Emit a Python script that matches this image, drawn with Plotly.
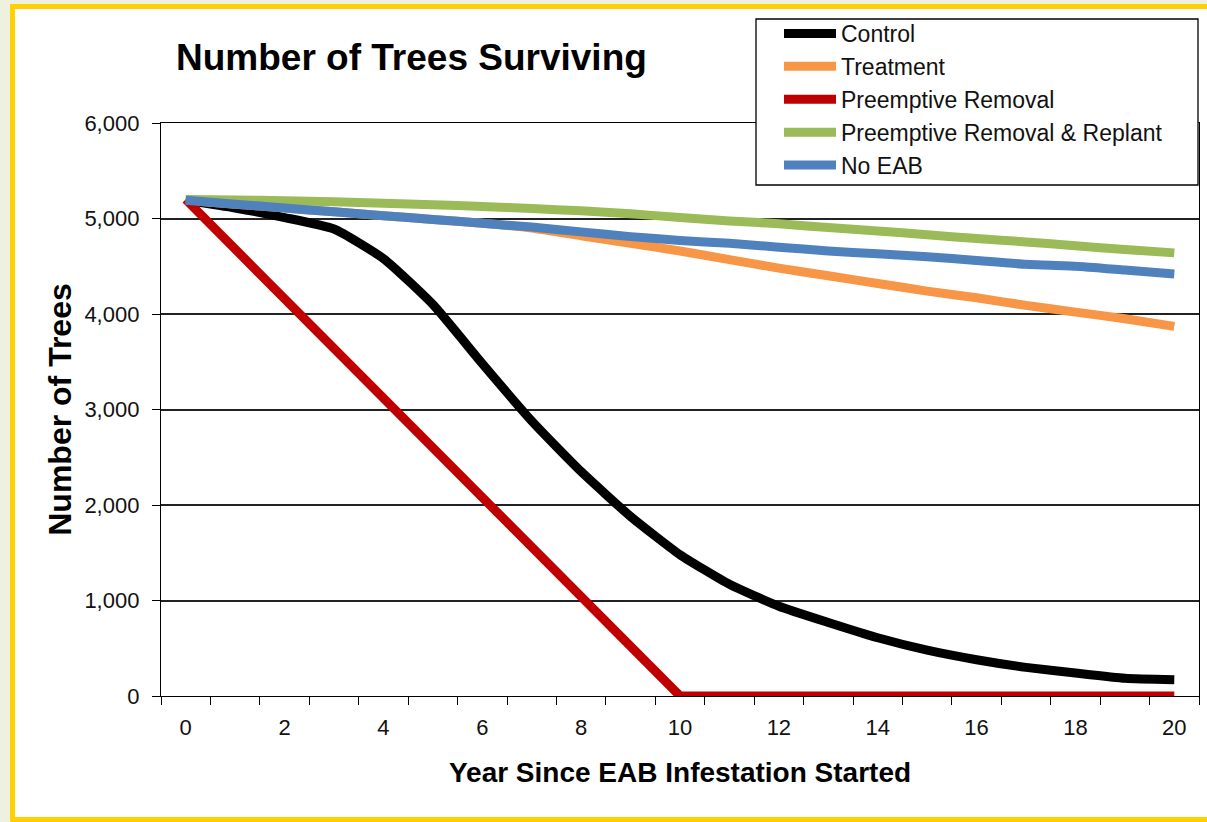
import plotly.graph_objects as go

# ---- data ----
years = list(range(21))
control = [5190, 5110, 5010, 4890, 4580, 4100, 3480, 2880, 2350, 1880, 1480,
           1170, 940, 770, 610, 480, 380, 300, 240, 185, 170]
treatment = [5190, 5150, 5110, 5070, 5030, 4990, 4950, 4900, 4820, 4740, 4660,
             4570, 4480, 4400, 4320, 4240, 4170, 4090, 4020, 3950, 3870]
preemptive_removal = [5200, 4680, 4160, 3640, 3120, 2600, 2080, 1560, 1040, 520, 0,
                      0, 0, 0, 0, 0, 0, 0, 0, 0, 0]
removal_replant = [5200, 5195, 5185, 5175, 5160, 5145, 5125, 5105, 5080, 5050, 5010,
                   4975, 4945, 4905, 4870, 4830, 4790, 4755, 4715, 4675, 4640]
no_eab = [5190, 5150, 5110, 5070, 5030, 4990, 4950, 4910, 4860, 4810, 4770,
          4740, 4700, 4660, 4630, 4600, 4560, 4520, 4500, 4460, 4420]

series_names = ["Control", "Treatment", "Preemptive Removal",
                "Preemptive Removal & Replant", "No EAB"]
series_values = [control, treatment, preemptive_removal, removal_replant, no_eab]
series_colors = ["#000000", "#f79646", "#c00000", "#9bbb59", "#4f81bd"]
series_shapes = ["spline", "spline", "linear", "spline", "spline"]

x_tick_values = [0, 2, 4, 6, 8, 10, 12, 14, 16, 18, 20]
x_tick_labels = ["0", "2", "4", "6", "8", "10", "12", "14", "16", "18", "20"]
y_tick_values = [0, 1000, 2000, 3000, 4000, 5000, 6000]

title_text = "Number of Trees Surviving"
x_title = "Year Since EAB Infestation Started"
y_title = "Number of Trees"

FONT = "Liberation Sans, Arial, sans-serif"
W, H = 1207, 822
ML, MR, MT, MB = 161, 8, 123, 126
PW = W - ML - MR
PH = H - MT - MB


def px_x(p):
    return (p - ML) / PW


def px_y(p):
    return (H - MB - p) / PH


fig = go.Figure()
for name, vals, col, shp in zip(series_names, series_values, series_colors, series_shapes):
    fig.add_trace(go.Scatter(
        x=years, y=vals, name=name, mode="lines",
        line=dict(color=col, width=9, shape=shp, smoothing=0.5),
    ))

# page frame: beige page, yellow border, white card
fig.add_shape(type="rect", xref="paper", yref="paper", layer="below",
              x0=px_x(12.5), x1=px_x(1215), y0=px_y(819.5), y1=px_y(6.5),
              fillcolor="white", line=dict(color="#ffd100", width=5))
# legend box (white, black border) drawn over the plot's top edge
fig.add_shape(type="rect", xref="paper", yref="paper", layer="above",
              x0=px_x(756), x1=px_x(1198), y0=px_y(185), y1=px_y(19),
              fillcolor="white", line=dict(color="#000000", width=1.3))

fig.update_layout(
    width=W, height=H, autosize=False,
    margin=dict(l=ML, r=MR, t=MT, b=MB, pad=0),
    paper_bgcolor="#eef0e0",
    plot_bgcolor="white",
    font=dict(family=FONT, color="#111111"),
    title=dict(text=title_text, x=px_x(176), xref="paper", xanchor="left",
               y=1 - 57 / H, yref="container", yanchor="middle",
               font=dict(family=FONT, size=37, color="#000000", weight="bold")),
    showlegend=True,
    legend=dict(x=px_x(779), y=px_y(12), xanchor="left", yanchor="top",
                bgcolor="rgba(0,0,0,0)", borderwidth=0,
                font=dict(family=FONT, size=23, color="#111111"),
                itemwidth=52, tracegroupgap=0),
    hovermode=False,
)

fig.update_xaxes(
    range=[-0.5, 20.5], tickmode="array", tickvals=x_tick_values, ticktext=x_tick_labels,
    ticks="", showgrid=False, zeroline=False,
    showline=True, linecolor="#000000", linewidth=1.3, mirror=True,
    tickfont=dict(family=FONT, size=22, color="#111111"),
    ticklabelstandoff=11,
    minor=dict(ticks="outside", ticklen=8, tickcolor="#000000", tickwidth=1.3,
               tick0=-0.5, dtick=1, showgrid=False),
    title=dict(text=x_title, standoff=23,
               font=dict(family=FONT, size=28, color="#000000", weight="bold")),
)
fig.update_yaxes(
    range=[0, 6000], tickmode="array", tickvals=y_tick_values, tickformat=",",
    ticks="outside", ticklen=8, tickcolor="#000000", tickwidth=1.3,
    showgrid=True, gridcolor="#222222", gridwidth=1.5, zeroline=False,
    showline=True, linecolor="#000000", linewidth=1.3, mirror=True,
    tickfont=dict(family=FONT, size=22, color="#111111"),
    ticklabelstandoff=8,
    title=dict(text=y_title, standoff=3,
               font=dict(family=FONT, size=32, color="#000000", weight="bold")),
)

fig.write_html("out.html", config={"displayModeBar": False},
               post_script="document.body.style.margin='0';")
